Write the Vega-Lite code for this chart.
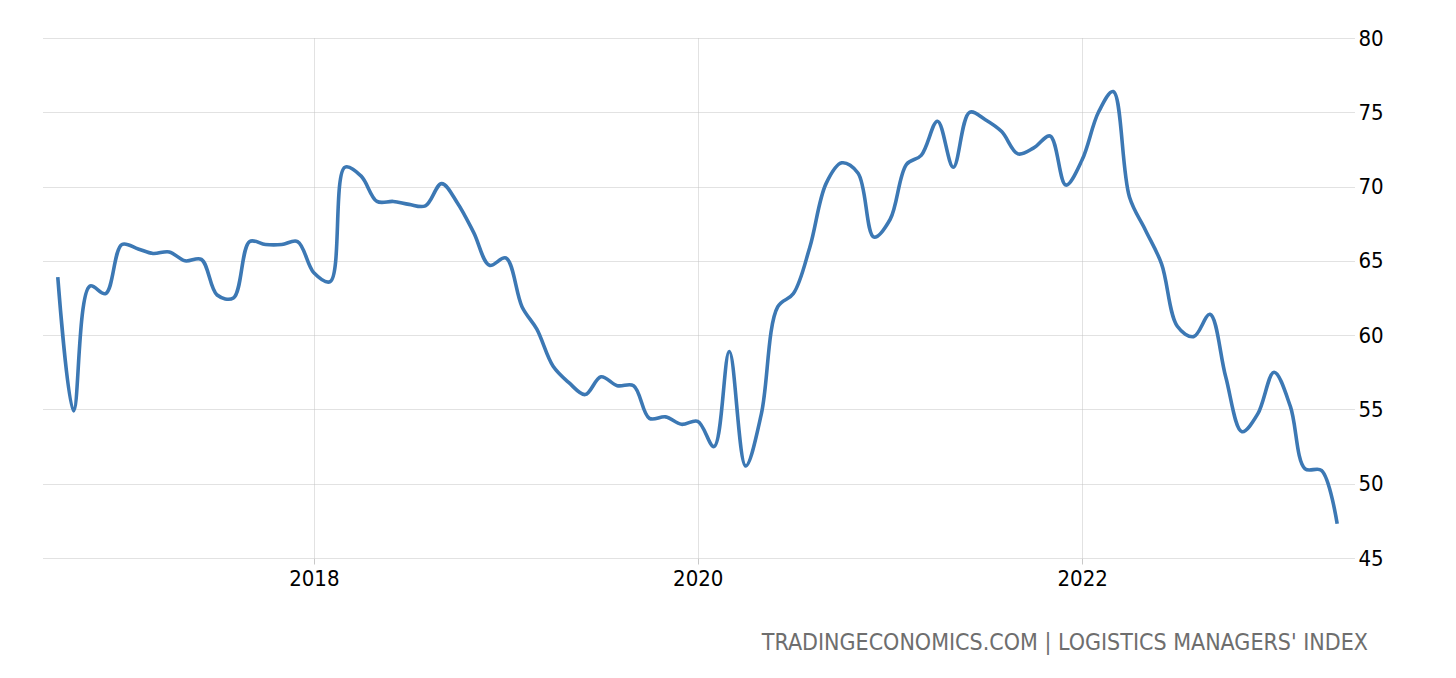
{
  "$schema": "https://vega.github.io/schema/vega-lite/v6.json",
  "width": 1312,
  "height": 520,
  "autosize": {"type": "none"},
  "padding": {"left": 42, "top": 38, "right": 102, "bottom": 120},
  "background": "white",
  "config": {
    "view": {"stroke": null},
    "font": "DejaVu Sans Condensed, DejaVu Sans"
  },
  "title": {
    "text": "TRADINGECONOMICS.COM | LOGISTICS MANAGERS' INDEX",
    "orient": "bottom",
    "anchor": "end",
    "frame": "group",
    "fontSize": 23,
    "fontWeight": "normal",
    "color": "#6e6e6e",
    "font": "DejaVu Sans Condensed, DejaVu Sans",
    "offset": 43,
    "dx": 14
  },
  "data": {
    "values": [
      {"date": "2016-09-01T00:00:00", "value": 63.9},
      {"date": "2016-10-01T00:00:00", "value": 54.9},
      {"date": "2016-11-01T00:00:00", "value": 63.3},
      {"date": "2016-12-01T00:00:00", "value": 62.8},
      {"date": "2017-01-01T00:00:00", "value": 66.1},
      {"date": "2017-02-01T00:00:00", "value": 65.8},
      {"date": "2017-03-01T00:00:00", "value": 65.5},
      {"date": "2017-04-01T00:00:00", "value": 65.6},
      {"date": "2017-05-01T00:00:00", "value": 65.0},
      {"date": "2017-06-01T00:00:00", "value": 65.1},
      {"date": "2017-07-01T00:00:00", "value": 62.7},
      {"date": "2017-08-01T00:00:00", "value": 62.5},
      {"date": "2017-09-01T00:00:00", "value": 66.3},
      {"date": "2017-10-01T00:00:00", "value": 66.1},
      {"date": "2017-11-01T00:00:00", "value": 66.1},
      {"date": "2017-12-01T00:00:00", "value": 66.3},
      {"date": "2018-01-01T00:00:00", "value": 64.2},
      {"date": "2018-02-01T00:00:00", "value": 63.6},
      {"date": "2018-03-01T00:00:00", "value": 71.3},
      {"date": "2018-04-01T00:00:00", "value": 70.7},
      {"date": "2018-05-01T00:00:00", "value": 69.0},
      {"date": "2018-06-01T00:00:00", "value": 69.0},
      {"date": "2018-07-01T00:00:00", "value": 68.8},
      {"date": "2018-08-01T00:00:00", "value": 68.7},
      {"date": "2018-09-01T00:00:00", "value": 70.2},
      {"date": "2018-10-01T00:00:00", "value": 68.9},
      {"date": "2018-11-01T00:00:00", "value": 66.9},
      {"date": "2018-12-01T00:00:00", "value": 64.7},
      {"date": "2019-01-01T00:00:00", "value": 65.2},
      {"date": "2019-02-01T00:00:00", "value": 61.9},
      {"date": "2019-03-01T00:00:00", "value": 60.4},
      {"date": "2019-04-01T00:00:00", "value": 57.9},
      {"date": "2019-05-01T00:00:00", "value": 56.8},
      {"date": "2019-06-01T00:00:00", "value": 56.0},
      {"date": "2019-07-01T00:00:00", "value": 57.2},
      {"date": "2019-08-01T00:00:00", "value": 56.6},
      {"date": "2019-09-01T00:00:00", "value": 56.6},
      {"date": "2019-10-01T00:00:00", "value": 54.4},
      {"date": "2019-11-01T00:00:00", "value": 54.5},
      {"date": "2019-12-01T00:00:00", "value": 54.0},
      {"date": "2020-01-01T00:00:00", "value": 54.2},
      {"date": "2020-02-01T00:00:00", "value": 52.5},
      {"date": "2020-03-01T00:00:00", "value": 58.9},
      {"date": "2020-04-01T00:00:00", "value": 51.2},
      {"date": "2020-05-01T00:00:00", "value": 54.7},
      {"date": "2020-06-01T00:00:00", "value": 61.9},
      {"date": "2020-07-01T00:00:00", "value": 62.8},
      {"date": "2020-08-01T00:00:00", "value": 65.9},
      {"date": "2020-09-01T00:00:00", "value": 70.2},
      {"date": "2020-10-01T00:00:00", "value": 71.6},
      {"date": "2020-11-01T00:00:00", "value": 70.9},
      {"date": "2020-12-01T00:00:00", "value": 66.6},
      {"date": "2021-01-01T00:00:00", "value": 67.8},
      {"date": "2021-02-01T00:00:00", "value": 71.5},
      {"date": "2021-03-01T00:00:00", "value": 72.1},
      {"date": "2021-04-01T00:00:00", "value": 74.4},
      {"date": "2021-05-01T00:00:00", "value": 71.3},
      {"date": "2021-06-01T00:00:00", "value": 75.0},
      {"date": "2021-07-01T00:00:00", "value": 74.5},
      {"date": "2021-08-01T00:00:00", "value": 73.7},
      {"date": "2021-09-01T00:00:00", "value": 72.2},
      {"date": "2021-10-01T00:00:00", "value": 72.6},
      {"date": "2021-11-01T00:00:00", "value": 73.4},
      {"date": "2021-12-01T00:00:00", "value": 70.1},
      {"date": "2022-01-01T00:00:00", "value": 71.8},
      {"date": "2022-02-01T00:00:00", "value": 75.0},
      {"date": "2022-03-01T00:00:00", "value": 76.4},
      {"date": "2022-04-01T00:00:00", "value": 69.3},
      {"date": "2022-05-01T00:00:00", "value": 67.1},
      {"date": "2022-06-01T00:00:00", "value": 64.8},
      {"date": "2022-07-01T00:00:00", "value": 60.6},
      {"date": "2022-08-01T00:00:00", "value": 59.9},
      {"date": "2022-09-01T00:00:00", "value": 61.4},
      {"date": "2022-10-01T00:00:00", "value": 57.2},
      {"date": "2022-11-01T00:00:00", "value": 53.5},
      {"date": "2022-12-01T00:00:00", "value": 54.7},
      {"date": "2023-01-01T00:00:00", "value": 57.5},
      {"date": "2023-02-01T00:00:00", "value": 55.2},
      {"date": "2023-03-01T00:00:00", "value": 51.0},
      {"date": "2023-04-01T00:00:00", "value": 50.9},
      {"date": "2023-05-01T00:00:00", "value": 47.3}
    ]
  },
  "mark": {"type": "line", "interpolate": "catmull-rom", "color": "#3c78b4", "strokeWidth": 3.6, "clip": true},
  "encoding": {
    "x": {
      "field": "date",
      "type": "temporal",
      "title": null,
      "scale": {"domain": [{"year": 2016, "month": "aug", "date": 2}, {"year": 2023, "month": "jun", "date": 2}]},
      "axis": {
        "values": [{"year": 2018, "month": 1, "date": 1}, {"year": 2020, "month": 1, "date": 1}, {"year": 2022, "month": 1, "date": 1}],
        "format": "%Y",
        "domain": false,
        "ticks": true,
        "tickSize": 6,
        "tickColor": "#c8c8c8",
        "grid": true,
        "gridColor": "#c4c4c4",
        "gridDash": [1, 1],
        "labelFontSize": 22,
        "labelColor": "#000000",
        "labelPadding": 4,
        "labelFont": "DejaVu Sans Condensed, DejaVu Sans"
      }
    },
    "y": {
      "field": "value",
      "type": "quantitative",
      "title": null,
      "scale": {"domain": [45, 80], "nice": false, "zero": false},
      "axis": {
        "orient": "right",
        "values": [45, 50, 55, 60, 65, 70, 75, 80],
        "domain": false,
        "ticks": false,
        "grid": true,
        "gridColor": "#c4c4c4",
        "gridDash": [1, 1],
        "labelFontSize": 22,
        "labelColor": "#000000",
        "labelPadding": 4,
        "labelFont": "DejaVu Sans Condensed, DejaVu Sans"
      }
    }
  }
}
